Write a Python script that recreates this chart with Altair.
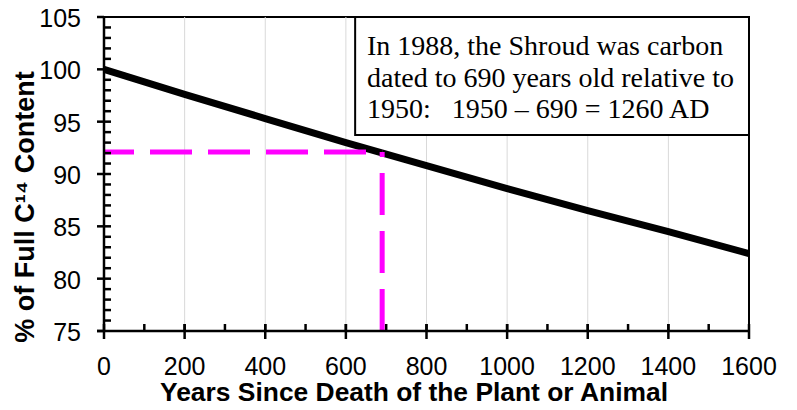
import altair as alt
import pandas as pd

# Decay curve
years = [0, 200, 400, 600, 800, 1000, 1200, 1400, 1600]
pct = [100.0, 97.6, 95.3, 93.0, 90.8, 88.6, 86.5, 84.5, 82.4]

# Shroud reading
shroud_age = 690
shroud_pct = 92.1

# Axes
x_ticks = [0, 200, 400, 600, 800, 1000, 1200, 1400, 1600]
y_ticks = [75, 80, 85, 90, 95, 100, 105]
x_grid = [200, 400, 600, 800, 1000, 1200, 1400]
x_minor = list(range(100, 1600, 100))
y_minor = list(range(76, 105))
x_title = "Years Since Death of the Plant or Animal"
y_title = "% of Full C\u00b9\u2074 Content"

# Annotation
note_lines = [
    "In 1988, the Shroud was carbon",
    "dated to 690 years old relative to",
    "1950:\u00a0\u00a0 1950 \u2013 690 = 1260 AD",
]
box_x = [623, 1600]
box_y = [93.73, 105]

W, H = 645, 314
SANS = "Liberation Sans, Arial, sans-serif"
SERIF = "Liberation Serif, Times New Roman, serif"

xs = alt.Scale(domain=[0, 1600], nice=False, zero=False)
ys = alt.Scale(domain=[75, 105], nice=False, zero=False)
one = pd.DataFrame({"k": [0]})

# grid
grid = alt.Chart(pd.DataFrame({"v": x_grid})).mark_rule(color="#d9d9d9", strokeWidth=1).encode(
    x=alt.X("v:Q", scale=xs, axis=None)
)

# curve
curve_df = pd.DataFrame({"years": years, "pct": pct})
curve = alt.Chart(curve_df).mark_line(color="black", strokeWidth=7).encode(
    x=alt.X("years:Q", scale=xs, axis=None),
    y=alt.Y("pct:Q", scale=ys, axis=None),
)

# dashed guides
h_df = pd.DataFrame({"x": [0], "x2": [shroud_age], "y": [shroud_pct]})
v_df = pd.DataFrame({"x": [shroud_age], "y": [75], "y2": [shroud_pct]})
h_dash = alt.Chart(h_df).mark_rule(
    color="#ff00ff", strokeWidth=5, strokeDash=[42, 16], strokeDashOffset=12
).encode(
    x=alt.X("x:Q", scale=xs, axis=None), x2="x2:Q",
    y=alt.Y("y:Q", scale=ys, axis=None),
)
v_dash = alt.Chart(v_df).mark_rule(
    color="#ff00ff", strokeWidth=5, strokeDash=[42, 16]
).encode(
    x=alt.X("x:Q", scale=xs, axis=None),
    y=alt.Y("y:Q", scale=ys, axis=None), y2="y2:Q",
)

# axis lines
y_axis_line = alt.Chart(one).mark_rule(color="black", strokeWidth=2.5).encode(
    x=alt.value(0), y=alt.value(0), y2=alt.value(H)
)
x_axis_line = alt.Chart(one).mark_rule(color="black", strokeWidth=2.5).encode(
    x=alt.value(-7), x2=alt.value(W), y=alt.value(H)
)

# ticks
xM = pd.DataFrame({"v": x_ticks})
yM = pd.DataFrame({"v": y_ticks})
xm = pd.DataFrame({"v": x_minor})
ym = pd.DataFrame({"v": y_minor})
x_major_ticks = alt.Chart(xM).mark_rule(color="black", strokeWidth=2.5).encode(
    x=alt.X("v:Q", scale=xs, axis=None), y=alt.value(H - 7), y2=alt.value(H + 8)
)
y_major_ticks = alt.Chart(yM).mark_rule(color="black", strokeWidth=2.5).encode(
    y=alt.Y("v:Q", scale=ys, axis=None), x=alt.value(-7), x2=alt.value(0)
)
x_minor_ticks = alt.Chart(xm).mark_rule(color="black", strokeWidth=2.5).encode(
    x=alt.X("v:Q", scale=xs, axis=None), y=alt.value(H - 7), y2=alt.value(H)
)
y_minor_ticks = alt.Chart(ym).mark_rule(color="black", strokeWidth=2.5).encode(
    y=alt.Y("v:Q", scale=ys, axis=None), x=alt.value(0), x2=alt.value(7)
)

# tick labels
x_labels = alt.Chart(xM).mark_text(
    font=SANS, fontSize=25, color="black", align="center", baseline="alphabetic"
).encode(
    x=alt.X("v:Q", scale=xs, axis=None), y=alt.value(H + 44),
    text=alt.Text("v:Q", format="d"),
)
y_labels = alt.Chart(yM).mark_text(
    font=SANS, fontSize=25, color="black", align="right", baseline="alphabetic", dy=10
).encode(
    y=alt.Y("v:Q", scale=ys, axis=None), x=alt.value(-23),
    text=alt.Text("v:Q", format="d"),
)

# axis titles
x_title_mark = alt.Chart(one).mark_text(
    text=x_title, font=SANS, fontSize=26.4, fontWeight="bold", color="black",
    align="center", baseline="alphabetic"
).encode(x=alt.value(310), y=alt.value(H + 70))
y_title_mark = alt.Chart(one).mark_text(
    text=y_title, font=SANS, fontSize=27, fontWeight="bold", color="black",
    align="center", baseline="alphabetic", angle=270
).encode(x=alt.value(-70), y=alt.value(190))

# annotation box
box_df = pd.DataFrame({"x": [box_x[0]], "x2": [box_x[1]], "y": [box_y[0]], "y2": [box_y[1]]})
box = alt.Chart(box_df).mark_rect(fill="white", stroke="black", strokeWidth=2).encode(
    x=alt.X("x:Q", scale=xs, axis=None), x2="x2:Q",
    y=alt.Y("y:Q", scale=ys, axis=None), y2="y2:Q",
)
note = alt.Chart(one).mark_text(
    text=note_lines, align="left", baseline="alphabetic",
    font=SERIF, fontSize=28, lineHeight=31.7, color="black"
).encode(x=alt.value(263), y=alt.value(38))

chart = alt.layer(
    grid, curve, h_dash, v_dash,
    y_axis_line, x_axis_line,
    x_major_ticks, y_major_ticks, x_minor_ticks, y_minor_ticks,
    x_labels, y_labels, x_title_mark, y_title_mark,
    box, note,
).properties(
    width=W, height=H,
    background="white",
    autosize=alt.AutoSizeParams(type="none"),
    padding={"left": 96, "top": 9, "right": 36, "bottom": 71},
).configure_view(
    stroke="black", strokeWidth=2
)

chart.save("out.html", embed_options={"renderer": "svg", "actions": False})
